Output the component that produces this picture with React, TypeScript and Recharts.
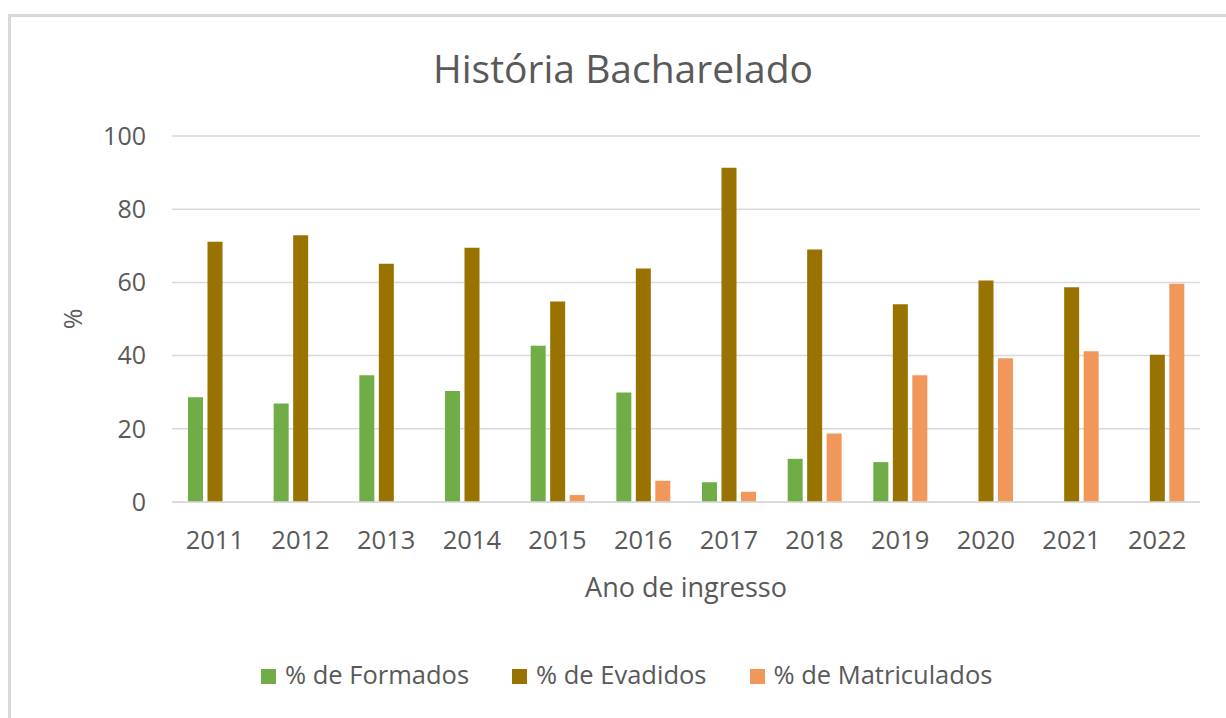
import React from 'react';
import { BarChart, Bar, XAxis, YAxis, CartesianGrid, Legend } from 'recharts';

const years = ['2011', '2012', '2013', '2014', '2015', '2016', '2017', '2018', '2019', '2020', '2021', '2022'];
const formados = [28.6, 26.9, 34.6, 30.3, 42.7, 29.9, 5.4, 11.8, 10.9, null, null, null];
const evadidos = [71.1, 72.9, 65.1, 69.5, 54.8, 63.8, 91.3, 69.0, 54.0, 60.5, 58.7, 40.2];
const matriculados = [null, null, null, null, 1.9, 5.8, 2.8, 18.7, 34.6, 39.3, 41.2, 59.6];
const yTicks = [0, 20, 40, 60, 80, 100];

const seriesNames = ['% de Formados', '% de Evadidos', '% de Matriculados'];
const seriesColors = ['#70AD47', '#997300', '#F1975A'];

const data = years.map((y, i) => ({
  year: y,
  formados: formados[i],
  evadidos: evadidos[i],
  matriculados: matriculados[i],
}));

const FONT = "'Open Sans', 'Noto Sans', sans-serif";
const TEXT = '#595959';

const LegendContent = () => (
  <div style={{ display: 'flex', alignItems: 'center', height: 30, lineHeight: '30px' }}>
    {seriesNames.map((n, i) => (
      <div key={n} style={{ display: 'flex', alignItems: 'center', marginRight: 43 }}>
        <span style={{ display: 'inline-block', width: 15, height: 15, background: seriesColors[i], marginRight: 9, marginTop: 4 }} />
        <span style={{ fontSize: 25.5, color: TEXT, fontFamily: FONT, whiteSpace: 'nowrap' }}>{n}</span>
      </div>
    ))}
  </div>
);

export default function App() {
  return (
    <div style={{ position: 'absolute', left: 0, top: 0, width: 1226, height: 718, background: '#fff', overflow: 'hidden', fontFamily: FONT }}>
      <div style={{ position: 'absolute', left: 8, top: 14, width: 1230, height: 720, borderTop: '3px solid #d9d9d9', borderLeft: '3px solid #d9d9d9', boxSizing: 'border-box' }} />
      <div style={{ position: 'absolute', left: 10, top: 48, width: 1226, textAlign: 'center', fontSize: 39, lineHeight: '39px', color: TEXT, fontFamily: FONT }}>
        História Bacharelado
      </div>
      <div style={{ position: 'absolute', left: 0, top: 0 }}>
        <BarChart
          width={1226}
          height={718}
          data={data}
          margin={{ top: 136, right: 26, left: 100, bottom: 156 }}
          barGap={4.5}
          barSize={15}
        >
          <CartesianGrid vertical={false} stroke="#d9d9d9" strokeWidth={1.5} />
          <XAxis
            dataKey="year"
            height={60}
            tickLine={false}
            axisLine={{ stroke: '#d9d9d9', strokeWidth: 1.5 }}
            tickSize={0}
            tickMargin={29}
            interval={0}
            tick={{ fill: TEXT, fontSize: 25.5, fontFamily: FONT }}
            label={{ value: 'Ano de ingresso', position: 'bottom', offset: 15.5, fill: TEXT, fontSize: 27, fontFamily: FONT }}
          />
          <YAxis
            width={72}
            domain={[0, 100]}
            ticks={yTicks}
            tickLine={false}
            axisLine={false}
            tickSize={0}
            tickMargin={26}
            tick={{ fill: TEXT, fontSize: 25, fontFamily: FONT }}
            label={{
              content: (props: any) => {
                const vb = props.viewBox || { y: 136, height: 366 };
                const cy = vb.y + vb.height / 2;
                return (
                  <text x={72} y={cy} transform={`rotate(-90 72 ${cy})`} textAnchor="middle" dominantBaseline="central" fill={TEXT} fontSize={25} fontFamily={FONT}>
                    %
                  </text>
                );
              },
            }}
          />
          <Legend
            verticalAlign="middle"
            align="center"
            layout="horizontal"
            content={<LegendContent />}
            wrapperStyle={{ position: 'absolute', top: 659, left: 261, width: 900, height: 30 }}
          />
          <Bar dataKey="formados" name={seriesNames[0]} fill={seriesColors[0]} isAnimationActive={false} />
          <Bar dataKey="evadidos" name={seriesNames[1]} fill={seriesColors[1]} isAnimationActive={false} />
          <Bar dataKey="matriculados" name={seriesNames[2]} fill={seriesColors[2]} isAnimationActive={false} />
        </BarChart>
      </div>
    </div>
  );
}
